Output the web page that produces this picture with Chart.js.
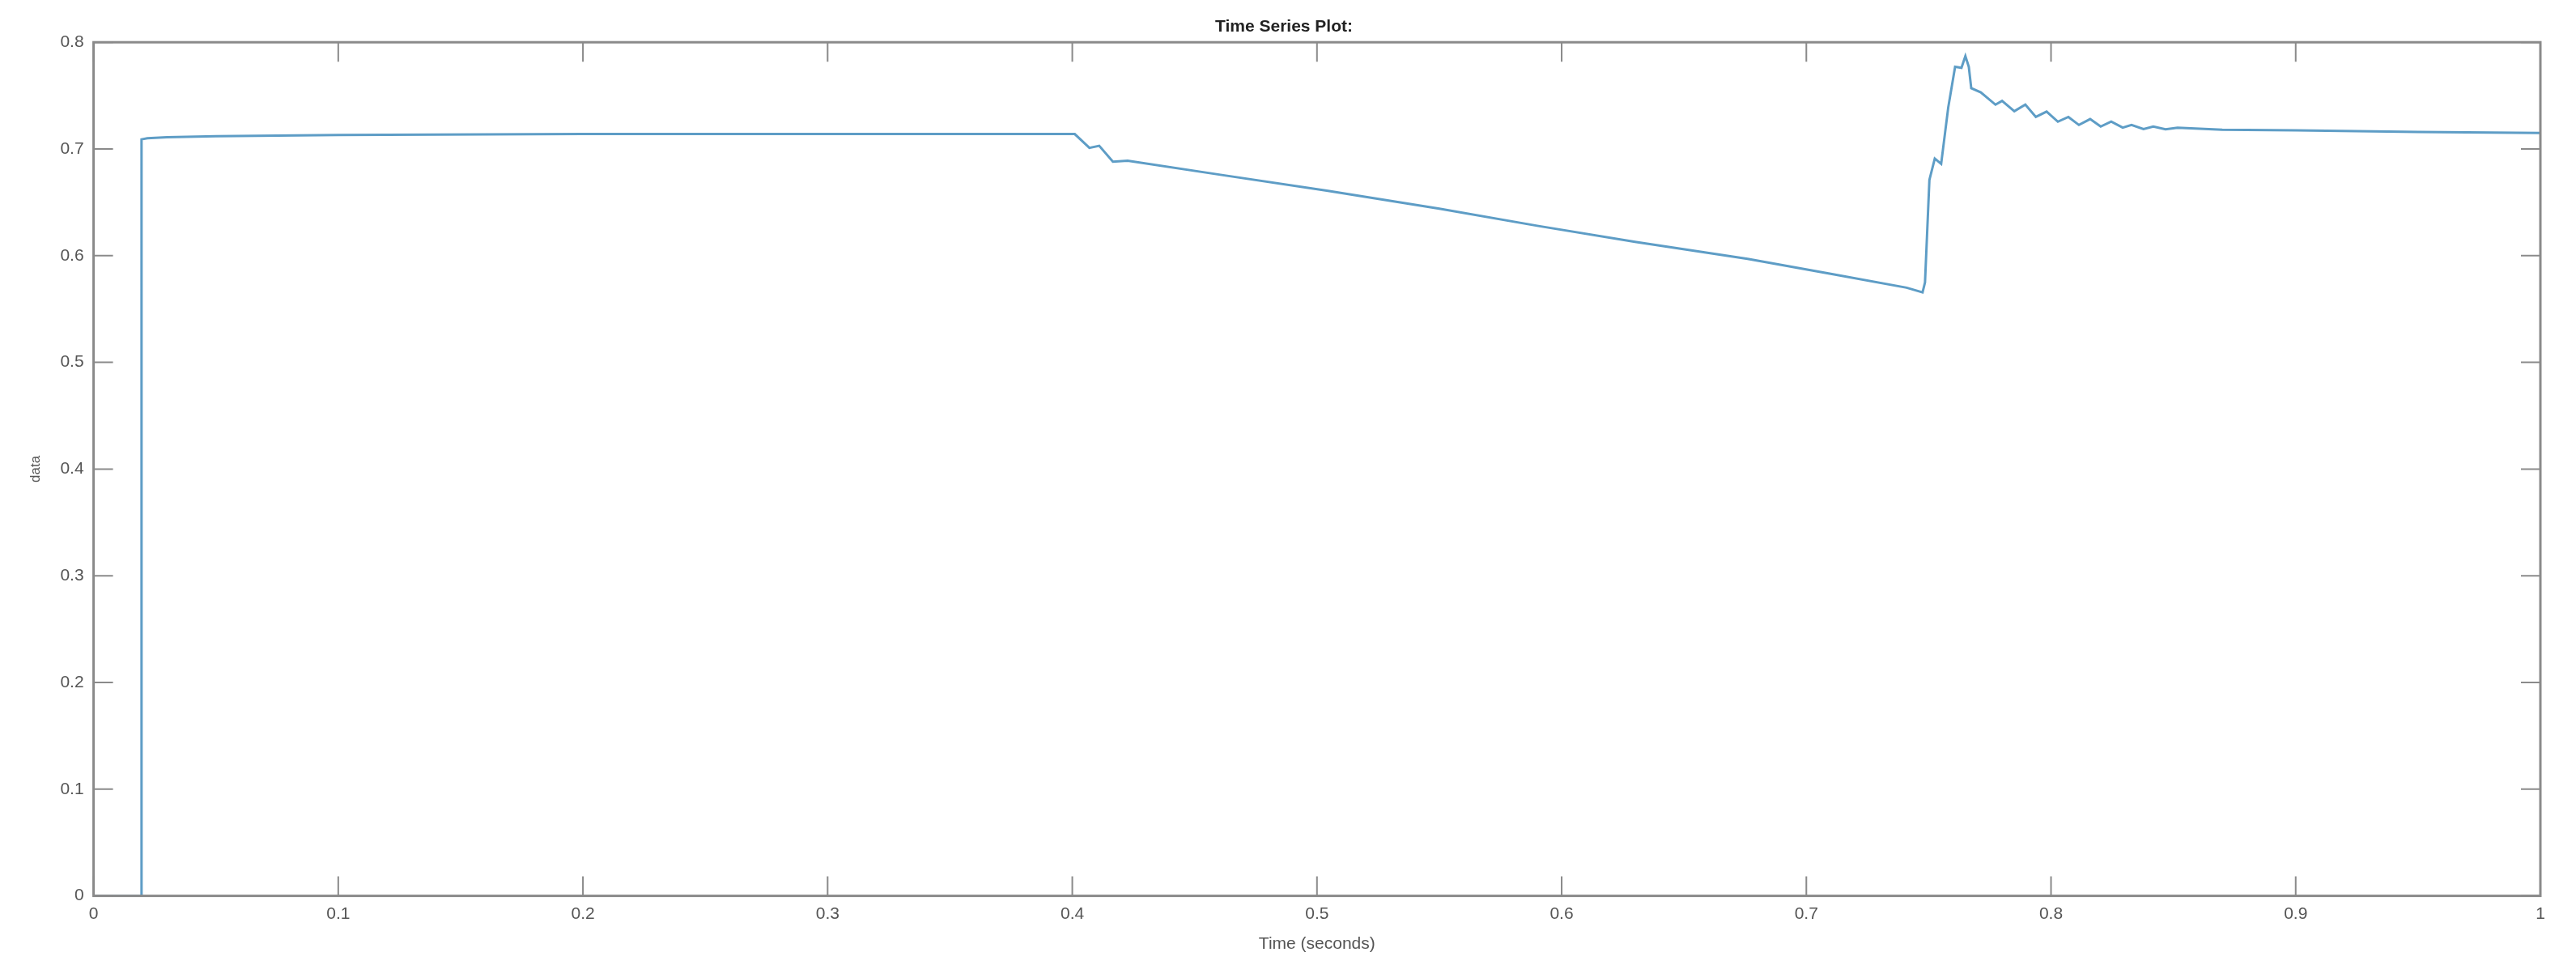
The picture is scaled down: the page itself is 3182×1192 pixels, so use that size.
<!DOCTYPE html>
<html>
<head>
<meta charset="utf-8">
<script src="https://cdn.jsdelivr.net/npm/chart.js@4/dist/chart.umd.min.js"></script>
<style>
  html, body { margin: 0; padding: 0; background: #fff; }
  #wrap { width: 3182px; height: 1192px; }
</style>
</head>
<body>
<div id="wrap"><canvas id="tsChart"></canvas></div>
<script>
// Time series values
const times = [
    0, 0.0194, 0.0196, 0.022, 0.03, 0.05, 0.1, 0.2, 0.3, 0.4,
    0.401, 0.407, 0.411, 0.4166, 0.4226, 0.46, 0.504, 0.55, 0.59, 0.63,
    0.676, 0.71, 0.741, 0.7475, 0.7485, 0.7503, 0.7525, 0.7551, 0.758, 0.7608,
    0.7634, 0.765, 0.7664, 0.7674, 0.7713, 0.7773, 0.780, 0.785, 0.7895, 0.7938,
    0.7982, 0.8028, 0.8071, 0.8114, 0.816, 0.8203, 0.8246, 0.8293, 0.8329, 0.8378,
    0.8418, 0.8468, 0.8517, 0.87, 0.9, 0.95, 1.0
];
const values = [
    0, 0, 0.709, 0.710, 0.711, 0.712, 0.713, 0.714, 0.714, 0.714,
    0.714, 0.701, 0.703, 0.688, 0.689, 0.676, 0.661, 0.644, 0.628, 0.613,
    0.597, 0.583, 0.570, 0.5656, 0.575, 0.671, 0.691, 0.686, 0.739, 0.777,
    0.776, 0.787, 0.777, 0.757, 0.753, 0.7415, 0.745, 0.7354, 0.7415, 0.730,
    0.735, 0.7256, 0.730, 0.7225, 0.728, 0.721, 0.7256, 0.720, 0.7225, 0.7187,
    0.721, 0.7185, 0.720, 0.718, 0.7175, 0.716, 0.715
];
const xTicks = [0, 0.1, 0.2, 0.3, 0.4, 0.5, 0.6, 0.7, 0.8, 0.9, 1];
const yTicks = [0, 0.1, 0.2, 0.3, 0.4, 0.5, 0.6, 0.7, 0.8];

const axisGray = '#8a8a8a';
const labelGray = '#555';

// box around the plot plus short inward tick marks (MATLAB style)
const boxTicks = {
    id: 'boxTicks',
    afterDatasetsDraw(chart) {
        const { ctx, chartArea: a, scales } = chart;
        const len = 24;
        ctx.save();
        ctx.strokeStyle = axisGray;
        ctx.lineWidth = 3;
        ctx.strokeRect(a.left, a.top, a.right - a.left, a.bottom - a.top);
        ctx.lineWidth = 2;
        xTicks.forEach(v => {
            const x = scales.x.getPixelForValue(v);
            ctx.beginPath();
            ctx.moveTo(x, a.bottom); ctx.lineTo(x, a.bottom - len);
            ctx.moveTo(x, a.top); ctx.lineTo(x, a.top + len);
            ctx.stroke();
        });
        yTicks.forEach(v => {
            const y = scales.y.getPixelForValue(v);
            ctx.beginPath();
            ctx.moveTo(a.left, y); ctx.lineTo(a.left + len, y);
            ctx.moveTo(a.right, y); ctx.lineTo(a.right - len, y);
            ctx.stroke();
        });
        ctx.restore();
    }
};

const points = times.map((t, i) => ({ x: t, y: values[i] }));

new Chart(document.getElementById('tsChart'), {
    type: 'line',
    data: {
        datasets: [{
            label: 'data',
            data: points,
            borderColor: '#5e9dc6',
            borderWidth: 3,
            pointRadius: 0,
            tension: 0,
            fill: false
        }]
    },
    options: {
        responsive: true,
        maintainAspectRatio: false,
        animation: false,
        layout: { padding: { top: 11, right: 44, bottom: 13, left: 34 } },
        plugins: {
            legend: { display: false },
            tooltip: { enabled: false },
            title: {
                display: true,
                text: 'Time Series Plot:',
                color: '#222',
                font: { family: 'Arial, Liberation Sans', size: 21, weight: 'bold' },
                padding: { top: 10, bottom: 6 }
            }
        },
        scales: {
            x: {
                type: 'linear',
                min: 0,
                max: 1,
                afterBuildTicks: s => { s.ticks = xTicks.map(v => ({ value: v })); },
                ticks: {
                    color: labelGray,
                    padding: 10,
                    maxRotation: 0,
                    font: { family: 'Arial, Liberation Sans', size: 21 },
                    callback: v => String(+v.toFixed(1))
                },
                grid: { display: false, drawTicks: false },
                border: { display: false },
                title: {
                    display: true,
                    text: 'Time (seconds)',
                    color: labelGray,
                    font: { family: 'Arial, Liberation Sans', size: 21 },
                    padding: { top: 2, bottom: 0 }
                }
            },
            y: {
                type: 'linear',
                min: 0,
                max: 0.8,
                afterBuildTicks: s => { s.ticks = yTicks.map(v => ({ value: v })); },
                ticks: {
                    color: labelGray,
                    padding: 12,
                    font: { family: 'Arial, Liberation Sans', size: 21 },
                    callback: v => String(+v.toFixed(1))
                },
                grid: { display: false, drawTicks: false },
                border: { display: false },
                title: {
                    display: true,
                    text: 'data',
                    color: labelGray,
                    font: { family: 'Arial, Liberation Sans', size: 17 },
                    padding: { top: 0, bottom: 8 }
                }
            }
        }
    },
    plugins: [boxTicks]
});
</script>
</body>
</html>
